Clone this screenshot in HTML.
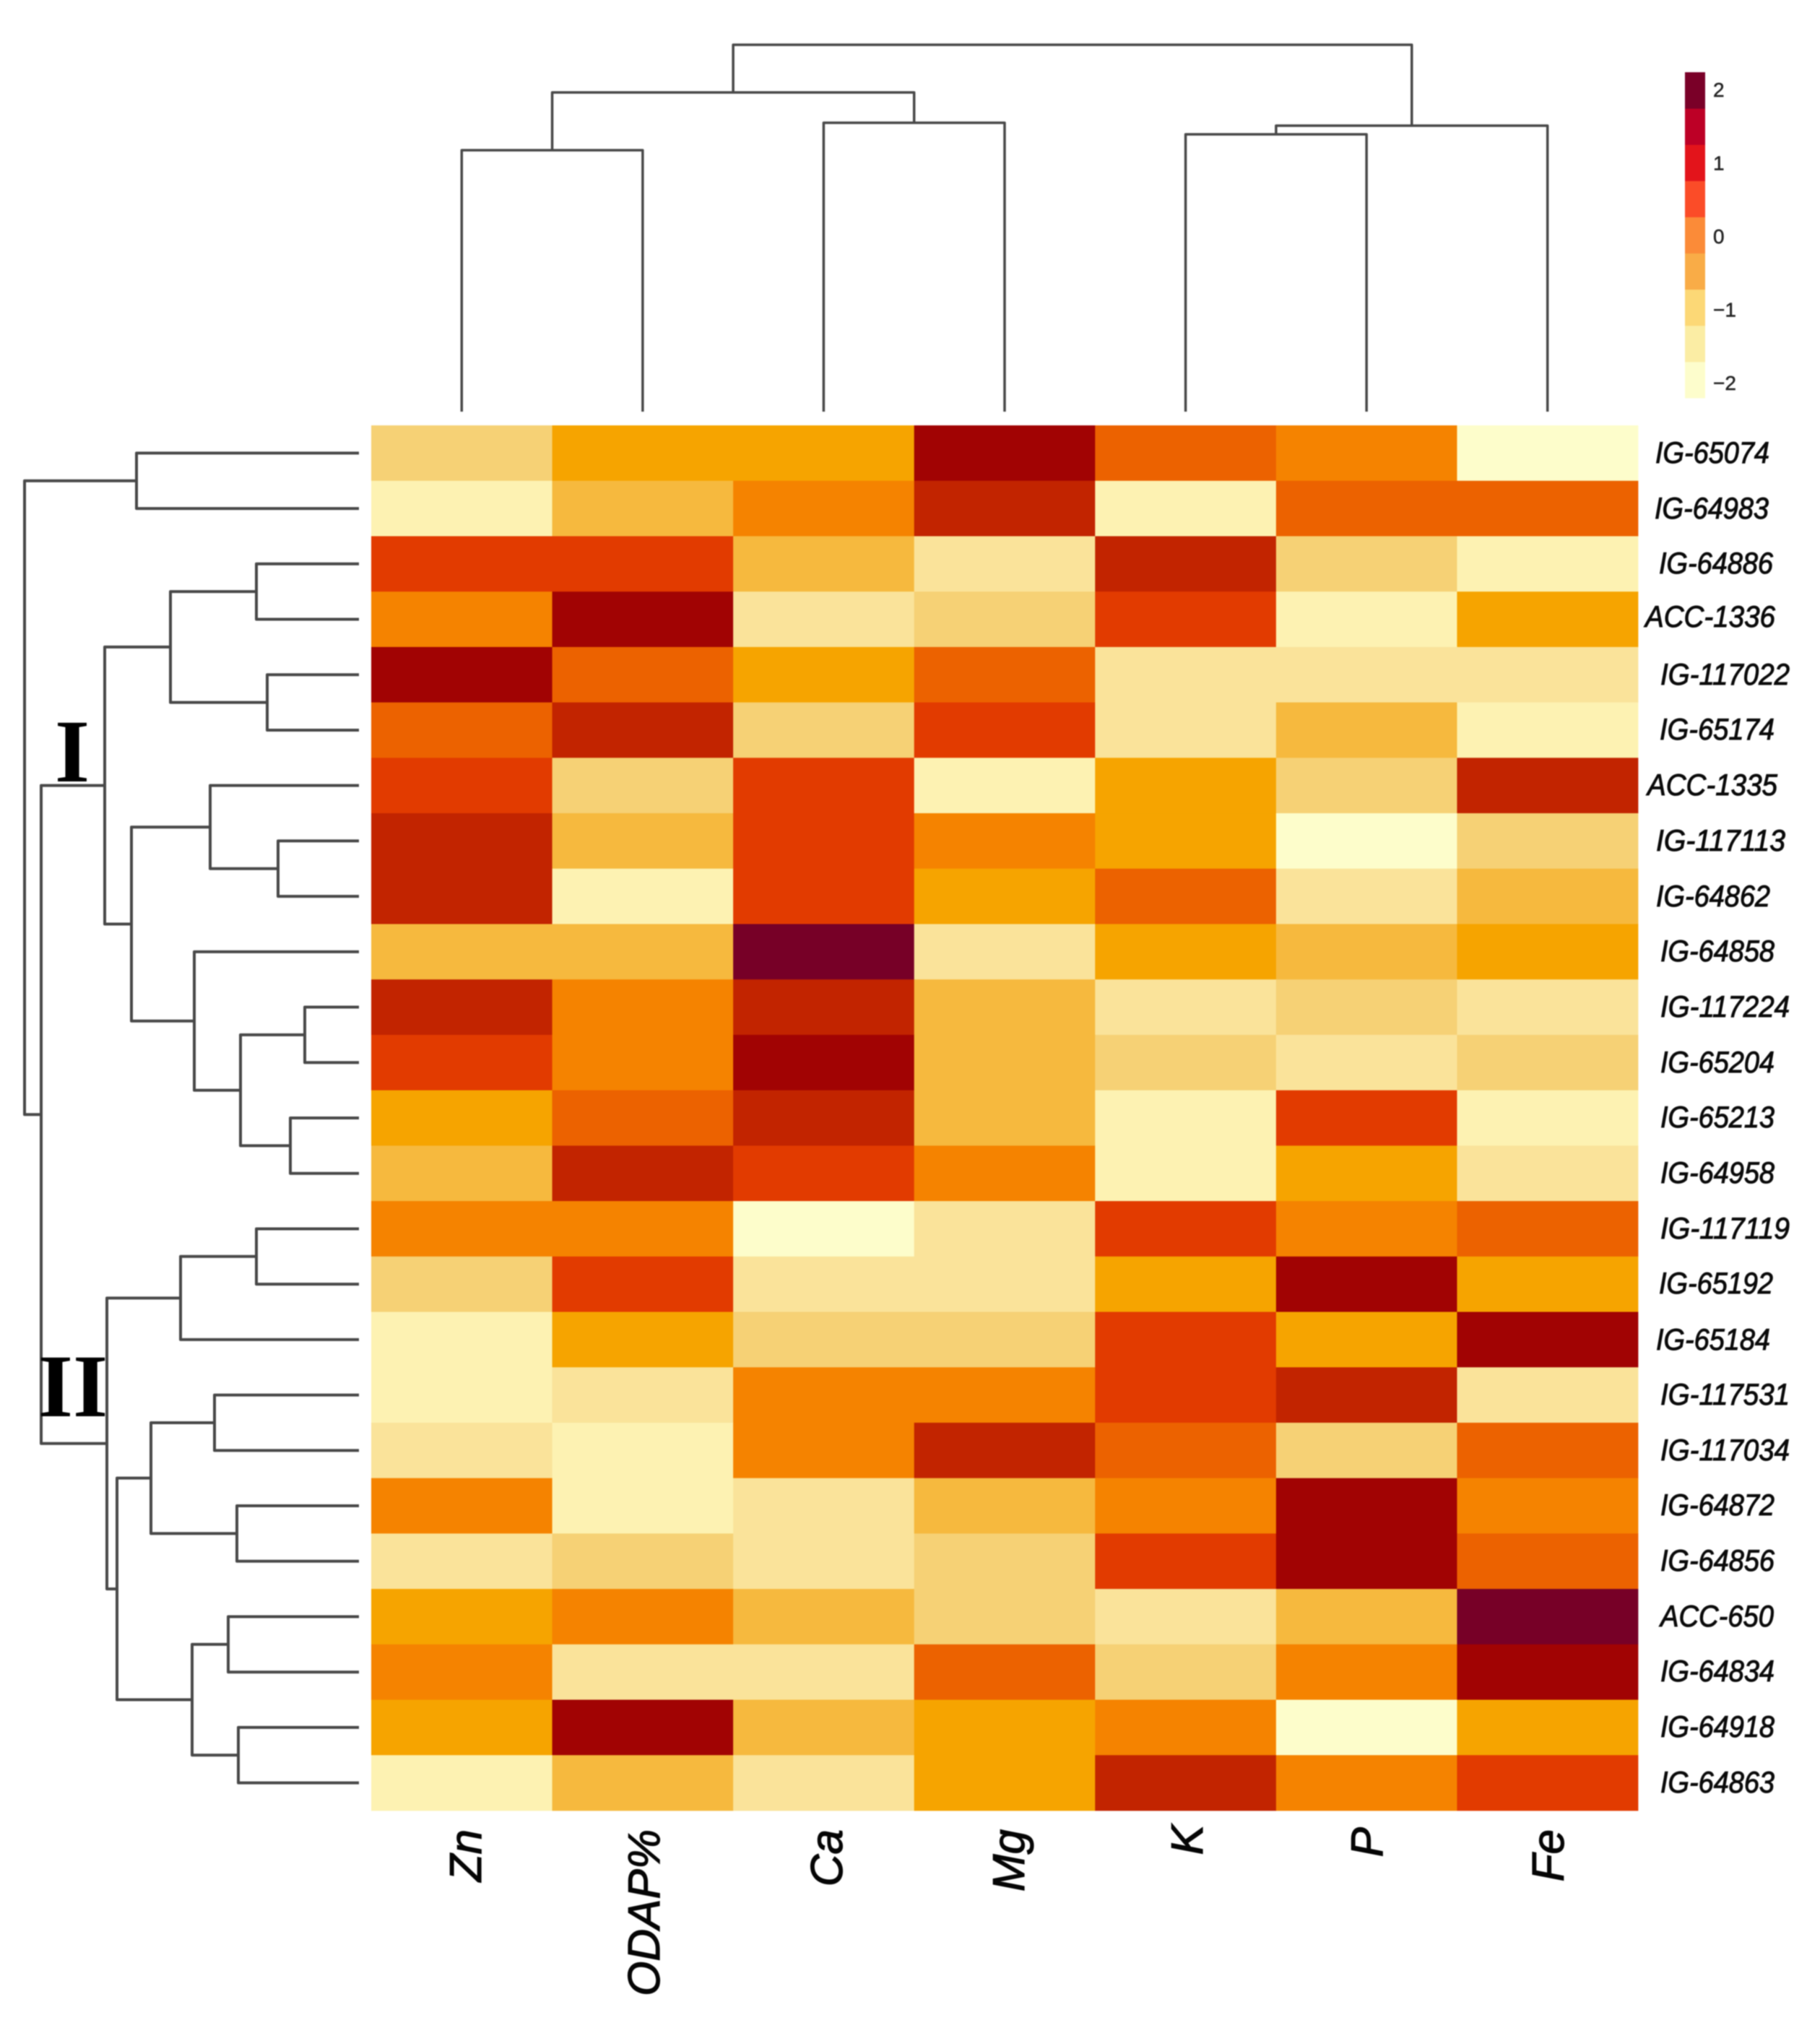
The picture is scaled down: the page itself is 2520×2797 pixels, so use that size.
<!DOCTYPE html>
<html lang="en">
<head>
<meta charset="utf-8">
<title>Clustered heatmap of mineral content and ODAP by accession</title>
<style>
  html, body { margin: 0; padding: 0; background: #ffffff; }
  svg { display: block; }
  .row-label { font-family: "Liberation Sans", sans-serif; font-style: italic; font-size: 42px; fill: #0a0a0a; stroke: #0a0a0a; stroke-width: 1px; }
  .col-label { font-family: "Liberation Sans", sans-serif; font-style: italic; font-size: 62px; fill: #050505; stroke: #050505; stroke-width: 1.2px; }
  .legend-label { font-family: "Liberation Sans", sans-serif; font-size: 28px; fill: #222; stroke: #222; stroke-width: 0.5px; }
  .cluster-label { font-family: "Liberation Serif", serif; font-weight: bold; font-size: 124px; fill: #000; }
</style>
</head>
<body>
<svg xmlns="http://www.w3.org/2000/svg" width="2520" height="2797" viewBox="0 0 2520 2797">
  <rect x="0" y="0" width="2520" height="2797" fill="#ffffff"/>
  <g style="filter:blur(0.7px)">
    <g id="cells"></g>
    <g id="left-tree" fill="none" stroke="#484848" stroke-width="4"></g>
    <g id="top-tree" fill="none" stroke="#484848" stroke-width="3.5"></g>
    <g id="legend"></g>

    <g>
      <text class="row-label" x="2292" y="641" textLength="158" lengthAdjust="spacingAndGlyphs">IG-65074</text>
      <text class="row-label" x="2291" y="718" textLength="158" lengthAdjust="spacingAndGlyphs">IG-64983</text>
      <text class="row-label" x="2297" y="794" textLength="158" lengthAdjust="spacingAndGlyphs">IG-64886</text>
      <text class="row-label" x="2278" y="868" textLength="180" lengthAdjust="spacingAndGlyphs">ACC-1336</text>
      <text class="row-label" x="2299" y="948" textLength="179" lengthAdjust="spacingAndGlyphs">IG-117022</text>
      <text class="row-label" x="2298" y="1024" textLength="159" lengthAdjust="spacingAndGlyphs">IG-65174</text>
      <text class="row-label" x="2281" y="1101" textLength="180" lengthAdjust="spacingAndGlyphs">ACC-1335</text>
      <text class="row-label" x="2293" y="1178" textLength="179" lengthAdjust="spacingAndGlyphs">IG-117113</text>
      <text class="row-label" x="2293" y="1255" textLength="158" lengthAdjust="spacingAndGlyphs">IG-64862</text>
      <text class="row-label" x="2299" y="1331" textLength="158" lengthAdjust="spacingAndGlyphs">IG-64858</text>
      <text class="row-label" x="2299" y="1408" textLength="179" lengthAdjust="spacingAndGlyphs">IG-117224</text>
      <text class="row-label" x="2299" y="1485" textLength="158" lengthAdjust="spacingAndGlyphs">IG-65204</text>
      <text class="row-label" x="2299" y="1561" textLength="158" lengthAdjust="spacingAndGlyphs">IG-65213</text>
      <text class="row-label" x="2299" y="1638" textLength="158" lengthAdjust="spacingAndGlyphs">IG-64958</text>
      <text class="row-label" x="2299" y="1715" textLength="179" lengthAdjust="spacingAndGlyphs">IG-117119</text>
      <text class="row-label" x="2297" y="1791" textLength="158" lengthAdjust="spacingAndGlyphs">IG-65192</text>
      <text class="row-label" x="2293" y="1869" textLength="158" lengthAdjust="spacingAndGlyphs">IG-65184</text>
      <text class="row-label" x="2299" y="1945" textLength="179" lengthAdjust="spacingAndGlyphs">IG-117531</text>
      <text class="row-label" x="2299" y="2022" textLength="179" lengthAdjust="spacingAndGlyphs">IG-117034</text>
      <text class="row-label" x="2299" y="2098" textLength="158" lengthAdjust="spacingAndGlyphs">IG-64872</text>
      <text class="row-label" x="2299" y="2175" textLength="158" lengthAdjust="spacingAndGlyphs">IG-64856</text>
      <text class="row-label" x="2299" y="2252" textLength="157" lengthAdjust="spacingAndGlyphs">ACC-650</text>
      <text class="row-label" x="2299" y="2328" textLength="158" lengthAdjust="spacingAndGlyphs">IG-64834</text>
      <text class="row-label" x="2299" y="2405" textLength="158" lengthAdjust="spacingAndGlyphs">IG-64918</text>
      <text class="row-label" x="2299" y="2482" textLength="158" lengthAdjust="spacingAndGlyphs">IG-64863</text>
    </g>

    <g>
      <text class="col-label" text-anchor="end" transform="translate(666 2533) rotate(-90)">Zn</text>
      <text class="col-label" text-anchor="end" transform="translate(913 2533) rotate(-90)">ODAP%</text>
      <text class="col-label" text-anchor="end" transform="translate(1166 2533) rotate(-90)">Ca</text>
      <text class="col-label" text-anchor="end" transform="translate(1418 2533) rotate(-90)">Mg</text>
      <text class="col-label" text-anchor="end" transform="translate(1665 2527) rotate(-90)">K</text>
      <text class="col-label" text-anchor="end" transform="translate(1914 2530) rotate(-90)">P</text>
      <text class="col-label" text-anchor="end" transform="translate(2165 2533) rotate(-90)">Fe</text>
    </g>

    <text class="cluster-label" text-anchor="middle" x="100" y="1082">I</text>
    <text class="cluster-label" text-anchor="middle" x="101" y="1961">II</text>
  </g>
</svg>

<script>
// ---- data ----
const columnNames = ["Zn", "ODAP%", "Ca", "Mg", "K", "P", "Fe"];
const rowNames = ["IG-65074","IG-64983","IG-64886","ACC-1336","IG-117022","IG-65174","ACC-1335","IG-117113","IG-64862","IG-64858","IG-117224","IG-65204","IG-65213","IG-64958","IG-117119","IG-65192","IG-65184","IG-117531","IG-117034","IG-64872","IG-64856","ACC-650","IG-64834","IG-64918","IG-64863"];

// z-scores, one row per accession, columns as in columnNames
const zScores = [
  [-1.0,-0.2,-0.2, 1.8, 0.6, 0.2,-2.2],
  [-1.8,-0.6, 0.2, 1.4,-1.8, 0.6, 0.6],
  [ 1.0, 1.0,-0.6,-1.4, 1.4,-1.0,-1.8],
  [ 0.2, 1.8,-1.4,-1.0, 1.0,-1.8,-0.2],
  [ 1.8, 0.6,-0.2, 0.6,-1.4,-1.4,-1.4],
  [ 0.6, 1.4,-1.0, 1.0,-1.4,-0.6,-1.8],
  [ 1.0,-1.0, 1.0,-1.8,-0.2,-1.0, 1.4],
  [ 1.4,-0.6, 1.0, 0.2,-0.2,-2.2,-1.0],
  [ 1.4,-1.8, 1.0,-0.2, 0.6,-1.4,-0.6],
  [-0.6,-0.6, 2.2,-1.4,-0.2,-0.6,-0.2],
  [ 1.4, 0.2, 1.4,-0.6,-1.4,-1.0,-1.4],
  [ 1.0, 0.2, 1.8,-0.6,-1.0,-1.4,-1.0],
  [-0.2, 0.6, 1.4,-0.6,-1.8, 1.0,-1.8],
  [-0.6, 1.4, 1.0, 0.2,-1.8,-0.2,-1.4],
  [ 0.2, 0.2,-2.2,-1.4, 1.0, 0.2, 0.6],
  [-1.0, 1.0,-1.4,-1.4,-0.2, 1.8,-0.2],
  [-1.8,-0.2,-1.0,-1.0, 1.0,-0.2, 1.8],
  [-1.8,-1.4, 0.2, 0.2, 1.0, 1.4,-1.4],
  [-1.4,-1.8, 0.2, 1.4, 0.6,-1.0, 0.6],
  [ 0.2,-1.8,-1.4,-0.6, 0.2, 1.8, 0.2],
  [-1.4,-1.0,-1.4,-1.0, 1.0, 1.8, 0.6],
  [-0.2, 0.2,-0.6,-1.0,-1.4,-0.6, 2.2],
  [ 0.2,-1.4,-1.4, 0.6,-1.0, 0.2, 1.8],
  [-0.2, 1.8,-0.6,-0.2, 0.2,-2.2,-0.2],
  [-1.8,-0.6,-1.4,-0.2, 1.4, 0.2, 1.0]
];

// row dendrogram: [merge distance, child, child]; a number is a row index
const rowTree = [4.63,
  [3.08, 0, 1],
  [4.40,
    [3.52,
      [2.61, [1.42, 2, 3], [1.27, 4, 5]],
      [3.15,
        [2.06, 6, [1.12, 7, 8]],
        [2.28, 9, [1.64, [0.75, 10, 11], [0.95, 12, 13]]]
      ]
    ],
    [3.49,
      [2.47, [1.42, 14, 15], 16],
      [3.35,
        [2.88, [2.00, 17, 18], [1.69, 19, 20]],
        [2.31, [1.81, 21, 22], [1.67, 23, 24]]
      ]
    ]
  ]
];

// column dendrogram: [merge height, child, child]; a number is a column index
const columnTree = [5.08,
  [4.42, [3.62, 0, 1], [4.00, 2, 3]],
  [3.96, [3.84, 4, 5], 6]
];

const legendColors = ["#FDFDCC","#FBEDA4","#FCD876","#F9AC47","#FB8B38","#FB4C28","#E3141B","#BD0026","#7A0028"];
const legendTicks = [-2, -1, 0, 1, 2];
const heatColors = ["#FDFDCB","#FDF2B2","#FAE39A","#F6D175","#F6B93E","#F6A400","#F58300","#EC6200","#E23B00","#C22400","#A10303","#770027"];

// ---- axes ----
const NS = "http://www.w3.org/2000/svg";
const heatLeft = 514, heatTop = 589, cellW = 250.57, cellH = 76.72;
const xCol = c => heatLeft + cellW * c;
const yRow = r => heatTop + cellH * r;
const xDist = d => 497 - d * 100;
const yHeight = h => 570 - h * 100;
const heatColor = z => heatColors[Math.max(0, Math.min(heatColors.length - 1, Math.round((z + 2.2) / 0.4)))];
const legendY = z => 326 - z * 101.5;

function make(tag, attrs, parent) {
  const el = document.createElementNS(NS, tag);
  for (const k in attrs) el.setAttribute(k, attrs[k]);
  parent.appendChild(el);
  return el;
}

// ---- heatmap cells ----
const cellsGroup = document.getElementById("cells");
zScores.forEach((row, r) => {
  row.forEach((z, c) => {
    const cell = make("rect", { x: xCol(c), y: yRow(r), width: cellW + 0.4, height: cellH + 0.4, fill: heatColor(z) }, cellsGroup);
    
    
    const tip = make("title", {}, cell);
    tip.textContent = rowNames[r] + " / " + columnNames[c] + ": " + z;
  });
});

// ---- dendrograms ----
function drawRowNode(node, group) {
  if (typeof node === "number") return { x: xDist(0), y: yRow(node + 0.5) };
  const a = drawRowNode(node[1], group);
  const b = drawRowNode(node[2], group);
  const x = xDist(node[0]);
  const link = make("path", { d: `M${a.x} ${a.y}H${x}V${b.y}H${b.x}`, "stroke-linejoin": "round" }, group);
  
  
  return { x: x, y: (a.y + b.y) / 2 };
}
function drawColumnNode(node, group) {
  if (typeof node === "number") return { x: xCol(node + 0.5), y: yHeight(0) };
  const a = drawColumnNode(node[1], group);
  const b = drawColumnNode(node[2], group);
  const y = yHeight(node[0]);
  const link = make("path", { d: `M${a.x} ${a.y}V${y}H${b.x}V${b.y}`, "stroke-linejoin": "round" }, group);
  
  
  return { x: (a.x + b.x) / 2, y: y };
}
drawRowNode(rowTree, document.getElementById("left-tree"));
drawColumnNode(columnTree, document.getElementById("top-tree"));

// ---- colour key ----
const legendGroup = document.getElementById("legend");
const binH = (551 - 100) / legendColors.length;
legendColors.forEach((color, i) => {
  const swatch = make("rect", { x: 2333, y: 551 - binH * (i + 1), width: 28, height: binH + 0.4, fill: color }, legendGroup);
  
  
});
legendTicks.forEach(t => {
  const label = make("text", { x: 2372, y: legendY(t) + 11, class: "legend-label" }, legendGroup);
  
  
  label.textContent = t < 0 ? "\u2212" + Math.abs(t) : String(t);
});
</script>
</body>
</html>
